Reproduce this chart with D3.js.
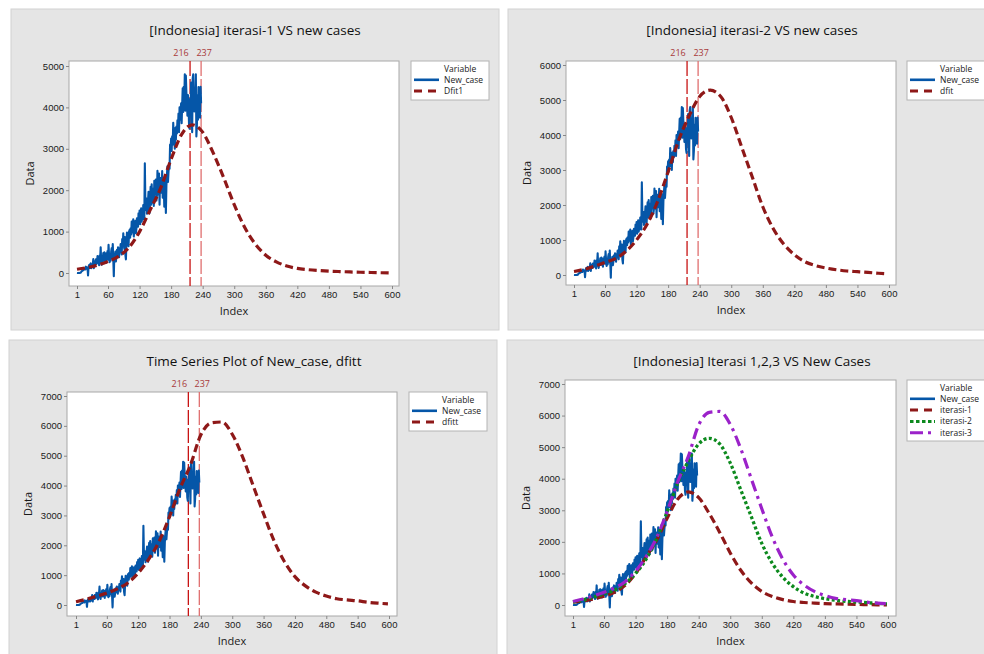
<!DOCTYPE html>
<html>
<head>
<meta charset="utf-8">
<script src="https://cdn.jsdelivr.net/npm/d3@7"></script>
<style>
  body { margin: 0; background: #fff; }
  svg { display: block; font-family: "Open Sans", "Noto Sans", sans-serif; }
  .tick text { font-size: 9.5px; fill: #1a1a1a; }
  .tick line { stroke: #888; }
</style>
</head>
<body>
<svg id="chart" width="984" height="654"></svg>
<script>
// daily new cases, day 1..237
const newCase = [
  2, 0, 2, 1, 0, 0, 4, 7, 27, 40,
  55, 64, 65, 81, 106, 105, 86, 153, 109, 130,
  129, -60, 150, 190, 120, 210, 230, 115, 185, 150,
  205, 336, 116, 282, 247, 200, 330, 220, 240, 410,
  280, 330, 190, 420, 340, 620, 270, 200, 380, 340,
  480, 290, 500, 400, 350, 240, 480, 360, 530, 320,
  680, 420, 260, 440, 300, 520, 600, 360, 700, 330,
  -80, 470, 380, 520, 280, 400, 560, 430, 620, 470,
  380, 600, 500, 700, 550, 450, 820, 640, 960, 700,
  580, 870, 440, 330, 700, 980, 720, 850, 650, 1000,
  1040, 850, 1080, 930, 1240, 980, 1120, 1300, 880, 1050,
  1180, 1260, 960, 1080, 1320, 1280, 1120, 1440, 1200, 1510,
  1180, 1350, 1560, 1240, 1350, 1300, 1640, 1500, 1300, 2650,
  1700, 1520, 1800, 1430, 1560, 1740, 1960, 1600, 1450, 1800,
  2080, 1650, 2140, 1700, 1890, 2040, 1620, 2230, 1900, 2100,
  2260, 1750, 1880, 2470, 2040, 1900, 2400, 1650, 2300, 2200,
  1940, 2040, 2460, 1820, 2300, 2100, 1600, 2310, 2050, 1450,
  2100, 2370, 2580, 2200, 2440, 2600, 2520, 3100, 3000, 3250,
  2950, 3300, 3100, 3630, 3270, 3400, 3000, 3500, 3220, 3540,
  3370, 3690, 3500, 3850, 3400, 4000, 3700, 3890, 4100, 3620,
  4070, 4460, 3890, 4500, 4170, 4800, 3920, 4770, 4360, 4200,
  3800, 4300, 4100, 3600, 3490, 4200, 3880, 4600, 4100, 3400,
  4700, 4800, 4200, 3900, 4470, 4110, 4800, 3300, 3560, 4300,
  3700, 4490, 4100, 4300, 3750, 4500, 4100
];

// fitted curves, sampled every 20 days
const fitDays = [1, 20, 40, 60, 80, 100, 120, 140, 160, 180, 200, 220, 240, 260, 280, 300,
  320, 340, 360, 380, 400, 420, 440, 460, 480, 500, 520, 540, 560, 580, 598];
const dfit1 = [90, 130, 190, 280, 400, 620, 1000, 1520, 2050, 2750, 3350, 3580, 3400, 2900, 2300, 1650,
  1100, 700, 430, 270, 170, 110, 80, 60, 45, 35, 25, 18, 12, 6, 0];
const dfit2 = [100, 160, 250, 360, 470, 680, 1000, 1450, 2100, 2950, 3850, 4550, 5100, 5280, 5100, 4500,
  3650, 2800, 1950, 1320, 880, 580, 380, 270, 200, 150, 115, 95, 75, 50, 35];
const dfitt = [110, 190, 290, 400, 540, 740, 1070, 1530, 2130, 2960, 3900, 4690, 5700, 6100, 6130, 5720,
  4950, 4000, 3050, 2150, 1450, 950, 640, 430, 300, 210, 170, 140, 90, 60, 40];

const xTicks = [1, 60, 120, 180, 240, 300, 360, 420, 480, 540, 600];
const refLines = [216, 237];

const caseDays = newCase.map((d, i) => i + 1);

const seriesStyle = {
  blue:   { color: "#0556a8", width: 2.1, dash: null, key: null },
  red:    { color: "#8e1818", width: 3.2, dash: "8,4", key: "8,6" },
  green:  { color: "#0d8a1e", width: 3.3, dash: "3,2.4", key: "3.5,2.5" },
  purple: { color: "#9b22c9", width: 3.2, dash: "11,5,3,5", key: "13,5,3,5" }
};

const panels = [
  { box: [11, 9, 488, 321], plot: [69, 61, 399, 286], xpx: [77, 392], ypx: [273, 66], ymax: 5000,
    title: "[Indonesia] iterasi-1 VS new cases", titleX: 255, titleY: 35, refs: true,
    legend: [411, 61, 78, 39],
    series: [["New_case", "blue", newCase], ["Dfit1", "red", dfit1]] },
  { box: [508, 9, 490, 321], plot: [566, 61, 896, 285], xpx: [574, 889], ypx: [275, 65], ymax: 6000,
    title: "[Indonesia] iterasi-2 VS new cases", titleX: 752, titleY: 35, refs: true,
    legend: [907, 61, 90, 39],
    series: [["New_case", "blue", newCase], ["dfit", "red", dfit2]] },
  { box: [9, 340, 488, 320], plot: [67, 392, 397, 616], xpx: [76, 389], ypx: [605, 396], ymax: 7000,
    title: "Time Series Plot of New_case, dfitt", titleX: 254, titleY: 366, refs: true,
    legend: [409, 392, 78, 39],
    series: [["New_case", "blue", newCase], ["dfitt", "red", dfitt]] },
  { box: [507, 340, 490, 320], plot: [565, 380, 896, 616], xpx: [573, 888], ypx: [605, 384], ymax: 7000,
    title: "[Indonesia] Iterasi 1,2,3 VS New Cases", titleX: 752, titleY: 366, refs: false,
    legend: [907, 380, 90, 61],
    series: [["New_case", "blue", newCase], ["iterasi-1", "red", dfit1],
             ["iterasi-2", "green", dfit2], ["iterasi-3", "purple", dfitt]] }
];

const svg = d3.select("#chart");

panels.forEach(function(p, pi) {
  var g = svg.append("g");
  var pl = p.plot[0], pt = p.plot[1], pr = p.plot[2], pb = p.plot[3];

  g.append("rect")
    .attr("x", p.box[0]).attr("y", p.box[1])
    .attr("width", p.box[2]).attr("height", p.box[3])
    .attr("fill", "#e5e5e5").attr("stroke", "#d2d2d2");

  g.append("text")
    .text(p.title)
    .attr("x", p.titleX).attr("y", p.titleY)
    .attr("text-anchor", "middle")
    .style("font-size", "13.5px").style("fill", "#111");

  var x = d3.scaleLinear().domain([1, 600]).range(p.xpx);
  var y = d3.scaleLinear().domain([0, p.ymax]).range(p.ypx);

  g.append("rect")
    .attr("x", pl).attr("y", pt).attr("width", pr - pl).attr("height", pb - pt)
    .attr("fill", "#fff").attr("stroke", "#a8a8a8");

  var xAxis = g.append("g")
    .attr("transform", "translate(0," + pb + ")")
    .call(d3.axisBottom(x).tickValues(xTicks).tickSize(3).tickPadding(2).tickFormat(d3.format("d")));
  xAxis.select(".domain").remove();

  var yAxis = g.append("g")
    .attr("transform", "translate(" + pl + ",0)")
    .call(d3.axisLeft(y).ticks(p.ymax / 1000).tickSize(3).tickPadding(2).tickFormat(d3.format("d")));
  yAxis.select(".domain").remove();

  g.append("text")
    .text("Index")
    .attr("x", (pl + pr) / 2).attr("y", pb + 29)
    .attr("text-anchor", "middle")
    .style("font-size", "11px").style("fill", "#1a1a1a");

  g.append("text")
    .text("Data")
    .attr("transform", "translate(" + (pl - 35) + "," + ((pt + pb) / 2) + ") rotate(-90)")
    .attr("text-anchor", "middle")
    .style("font-size", "11px").style("fill", "#1a1a1a");

  g.append("clipPath").attr("id", "clip" + pi)
    .append("rect").attr("x", pl).attr("y", pt).attr("width", pr - pl).attr("height", pb - pt);

  var area = g.append("g").attr("clip-path", "url(#clip" + pi + ")");

  // reference lines 216 / 237
  if (p.refs) {
    refLines.forEach(function(r, ri) {
      area.append("line")
        .attr("x1", x(r)).attr("x2", x(r)).attr("y1", pt).attr("y2", pb)
        .attr("stroke", ri === 0 ? "#c81414" : "#e07070")
        .attr("stroke-width", 1.3)
        .attr("stroke-dasharray", "15,3");
      g.append("text")
        .text(r)
        .attr("x", ri === 0 ? x(r) - 9 : x(r) + 3)
        .attr("y", pt - 5)
        .attr("text-anchor", "middle")
        .style("font-size", "9px").style("fill", "#a83a3a");
    });
  }

  // series
  p.series.forEach(function(s) {
    var st = seriesStyle[s[1]];
    var days = s[2] === newCase ? caseDays : fitDays;
    var line = d3.line()
      .x(function(d, i) { return x(days[i]); })
      .y(function(d) { return y(d); })
      .curve(s[2] === newCase ? d3.curveLinear : d3.curveMonotoneX);
    area.append("path")
      .datum(s[2])
      .attr("d", line)
      .attr("fill", "none")
      .attr("stroke", st.color)
      .attr("stroke-width", st.width)
      .attr("stroke-dasharray", st.dash)
      .attr("stroke-linejoin", "round");
  });

  // legend
  var lg = p.legend;
  var legend = g.append("g");
  legend.append("rect")
    .attr("x", lg[0]).attr("y", lg[1]).attr("width", lg[2]).attr("height", lg[3])
    .attr("fill", "#fff").attr("stroke", "#b4b4b4");
  legend.append("text")
    .text("Variable")
    .attr("x", lg[0] + 33).attr("y", lg[1] + 10.5)
    .style("font-size", "8.5px").style("fill", "#1a1a1a");

  var item = legend.selectAll("g.legenditem")
    .data(p.series)
    .enter()
    .append("g")
    .attr("class", "legenditem")
    .attr("transform", function(d, i) {
      return "translate(" + lg[0] + "," + (lg[1] + 21.8 + i * 11.3) + ")";
    });

  item.append("line")
    .attr("x1", 3).attr("x2", 28).attr("y1", -3).attr("y2", -3)
    .attr("stroke", function(d) { return seriesStyle[d[1]].color; })
    .attr("stroke-width", function(d) { return d[1] === "blue" ? 2.6 : 3; })
    .attr("stroke-dasharray", function(d) { return seriesStyle[d[1]].key; });

  item.append("text")
    .text(function(d) { return d[0]; })
    .attr("x", 33).attr("y", 0)
    .style("font-size", "8.5px").style("fill", "#1a1a1a");
});
</script>
</body>
</html>
